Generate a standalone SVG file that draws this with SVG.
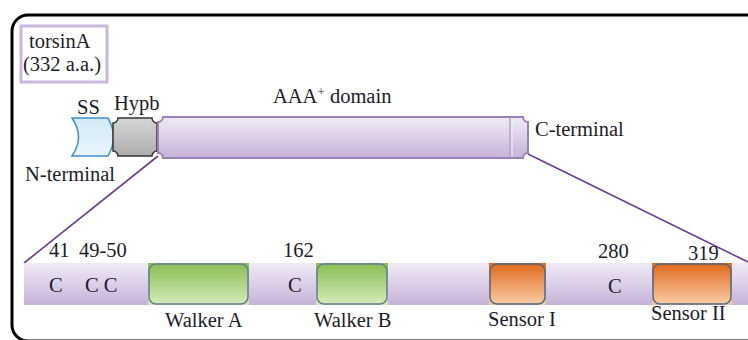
<svg xmlns="http://www.w3.org/2000/svg" width="748" height="340" viewBox="0 0 748 340">
<defs>
<linearGradient id="gLav" x1="0" y1="0" x2="0" y2="1"><stop offset="0" stop-color="#f0eaf5"/><stop offset="1" stop-color="#c6b3d9"/></linearGradient>
<linearGradient id="gBlue" x1="0" y1="0" x2="0" y2="1"><stop offset="0" stop-color="#d3e9f7"/><stop offset="1" stop-color="#eaf5fc"/></linearGradient>
<linearGradient id="gGray" x1="0" y1="0" x2="0" y2="1"><stop offset="0" stop-color="#d6d6d6"/><stop offset="1" stop-color="#adadad"/></linearGradient>
<linearGradient id="gGreen" x1="0" y1="0" x2="0" y2="1"><stop offset="0" stop-color="#8cbf55"/><stop offset="1" stop-color="#d4e9ba"/></linearGradient>
<linearGradient id="gOrange" x1="0" y1="0" x2="0" y2="1"><stop offset="0" stop-color="#e06a1c"/><stop offset="1" stop-color="#f9cca5"/></linearGradient>
</defs>
<style>
text{font-family:"Liberation Serif","Times New Roman",serif;font-size:20.5px;fill:#1c1c2a}
.conn{stroke:#6a3d8f;stroke-width:1.6;fill:none}
.green{fill:url(#gGreen);stroke:#5f7f8f;stroke-width:1.5}
.orange{fill:url(#gOrange);stroke:#4f6a86;stroke-width:1.5}
</style>
<rect x="12" y="15" width="750" height="326" rx="16" fill="#fff" stroke="#000" stroke-width="3"/>
<g id="title">
<rect x="21" y="26" width="86" height="56" fill="none" stroke="#c9b8dd" stroke-width="3"/>
<text x="29" y="48">torsinA</text>
<text x="23" y="71">(332 a.a.)</text>
</g>
<g id="connectors">
<line class="conn" x1="158" y1="156" x2="24" y2="263"/>
<line class="conn" x1="528" y1="154" x2="748" y2="262"/>
</g>
<g id="bar-bottom">
<rect x="24" y="263" width="724" height="42" fill="url(#gLav)"/>
</g>
<g id="ss">
<path d="M72,118 Q85,137 72,156 L108,156 Q119,137 108,118 Z" fill="url(#gBlue)" stroke="#3f8fcc" stroke-width="1.5"/>
<text x="77" y="114">SS</text>
</g>
<g id="hypb">
<path d="M118,118 L152,118 A5,5 0 0 0 157,123 L157,151 A5,5 0 0 0 152,156 L118,156 A5,5 0 0 0 113,151 L113,123 A5,5 0 0 0 118,118 Z" fill="url(#gGray)" stroke="#333" stroke-width="1.5"/>
<text x="114" y="110">Hypb</text>
</g>
<g id="aaa">
<path d="M163,117 L523,117 A5,5 0 0 0 528,122 L528,153 A5,5 0 0 0 523,158 L163,158 A5,5 0 0 0 158,153 L158,122 A5,5 0 0 0 163,117 Z" fill="url(#gLav)" stroke="#9a82b7" stroke-width="2"/>
<line x1="510" y1="118" x2="510" y2="157" stroke="#b9a4cd" stroke-width="1.5"/>
<line x1="512" y1="118" x2="512" y2="157" stroke="#f3eef7" stroke-width="1"/>
<text x="273" y="103">AAA<tspan font-size="13" dy="-7">+</tspan><tspan dy="7"> domain</tspan></text>
</g>
<g id="labels-top">
<text x="535" y="136">C-terminal</text>
<text x="25" y="181">N-terminal</text>
</g>
<g id="walkerA">
<rect x="148" y="263" width="101" height="42" fill="url(#gGreen)"/>
<rect class="green" x="149" y="264" width="99" height="40" rx="7"/>
<text x="165" y="327">Walker A</text>
</g>
<g id="walkerB">
<rect x="316" y="263" width="72" height="42" fill="url(#gGreen)"/>
<rect class="green" x="317" y="264" width="70" height="40" rx="7"/>
<text x="314" y="327">Walker B</text>
</g>
<g id="sensorI">
<rect x="489" y="263" width="57" height="42" fill="url(#gOrange)"/>
<rect class="orange" x="490" y="264" width="55" height="40" rx="7"/>
<text x="488" y="326">Sensor I</text>
</g>
<g id="sensorII">
<rect x="652" y="263" width="80" height="42" fill="url(#gOrange)"/>
<rect class="orange" x="653" y="264" width="78" height="40" rx="7"/>
<text x="651" y="320">Sensor II</text>
</g>
<g id="residues">
<text x="49" y="257">41</text>
<text x="79" y="257">49-50</text>
<text x="283" y="257">162</text>
<text x="598" y="258">280</text>
<text x="688" y="260">319</text>
<text x="49" y="292">C</text>
<text x="85" y="292">C C</text>
<text x="288" y="292">C</text>
<text x="608" y="293">C</text>
</g>
</svg>
